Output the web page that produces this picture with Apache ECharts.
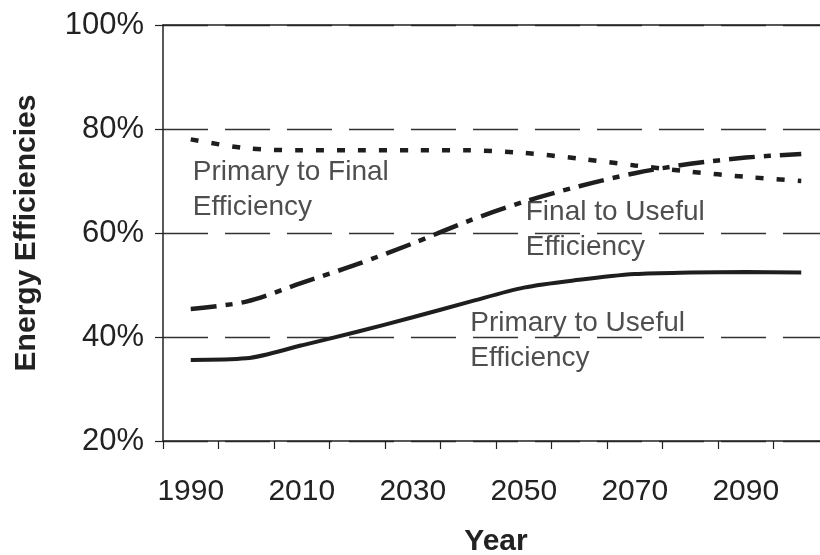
<!DOCTYPE html>
<html><head><meta charset="utf-8">
<script src="https://cdn.jsdelivr.net/npm/echarts@6/dist/echarts.min.js"></script>
<style>html,body{margin:0;padding:0;background:#fff}#c{width:820px;height:555px}</style>
</head><body><div id="c"></div>
<script>
const years = ['1990','2000','2010','2020','2030','2040','2050','2060','2070','2080','2090','2100'];
const primaryToFinal = [78.0, 76.3, 75.9, 75.9, 75.9, 75.9, 75.4, 74.3, 73.0, 71.8, 70.8, 70.0];
const finalToUseful = [45.4, 46.8, 50.4, 54.0, 58.0, 62.3, 66.0, 69.0, 71.5, 73.3, 74.5, 75.2];
const primaryToUseful = [35.6, 35.9, 38.4, 41.0, 43.8, 46.7, 49.5, 51.0, 52.1, 52.4, 52.5, 52.4];
const yTicks = [20, 40, 60, 80, 100];
const notes = [
  {text: 'Primary to Final\nEfficiency', year: '1990', value: 75.0},
  {text: 'Final to Useful\nEfficiency', year: '2050', value: 67.3},
  {text: 'Primary to Useful\nEfficiency', year: '2040', value: 46.0}
];
const FONT = 'Liberation Sans';
const chart = echarts.init(document.getElementById('c'), null, {renderer: 'canvas'});
chart.setOption({
  animation: false,
  grid: {left: 163, right: -9, top: 25, bottom: 114, outerBoundsMode: 'none', containLabel: false},
  xAxis: [{
    type: 'category', data: years, boundaryGap: true,
    axisLine: {lineStyle: {color: '#222', width: 1.5}},
    axisTick: {show: true, interval: 0, length: 8, lineStyle: {color: '#222', width: 1.2}},
    axisLabel: {interval: 1, margin: 36, fontFamily: FONT, fontSize: 30, color: '#222'},
    name: 'Year', nameLocation: 'middle', nameGap: 86,
    nameTextStyle: {fontFamily: FONT, fontSize: 30, fontWeight: 'bold', color: '#222'},
    splitLine: {show: false}
  }, {
    type: 'category', data: years, position: 'top',
    axisLine: {show: true, lineStyle: {color: '#222', width: 1.5}},
    axisTick: {show: false}, axisLabel: {show: false}
  }],
  yAxis: {
    type: 'value', min: yTicks[0], max: yTicks[yTicks.length - 1], interval: 20,
    axisLine: {show: true, lineStyle: {color: '#222', width: 1.5}},
    axisTick: {show: true, length: 8, lineStyle: {color: '#222', width: 1.2}},
    axisLabel: {formatter: '{value}%', margin: 19, fontFamily: FONT, fontSize: 31, color: '#222'},
    splitLine: {show: true, lineStyle: {color: '#333', width: 1.3, type: [45, 17]}},
    name: 'Energy Efficiencies', nameLocation: 'middle', nameGap: 121, nameRotate: 90,
    nameTextStyle: {fontFamily: FONT, fontSize: 30, fontWeight: 'bold', color: '#222'}
  },
  series: [
    {type: 'line', name: 'Primary to Final', data: primaryToFinal, smooth: 0.3, symbol: 'none',
     lineStyle: {color: '#1e1e1e', width: 4.5, type: [8, 13], cap: 'butt'}},
    {type: 'line', name: 'Final to Useful', data: finalToUseful, smooth: 0.3, symbol: 'none',
     lineStyle: {color: '#1e1e1e', width: 4.5, type: [26, 9, 7, 9], cap: 'butt'}},
    {type: 'line', name: 'Primary to Useful', data: primaryToUseful, smooth: 0.3, symbol: 'none',
     lineStyle: {color: '#1e1e1e', width: 4}},
    {type: 'scatter', data: notes.map(n => ({value: [n.year, n.value], name: n.text})),
     symbolSize: 0, silent: true, z: 5,
     label: {show: true, position: [2, 0], align: 'left', verticalAlign: 'top',
       formatter: p => p.name, fontFamily: FONT, fontSize: 28, lineHeight: 35, color: '#222'}}
  ]
});
</script></body></html>
